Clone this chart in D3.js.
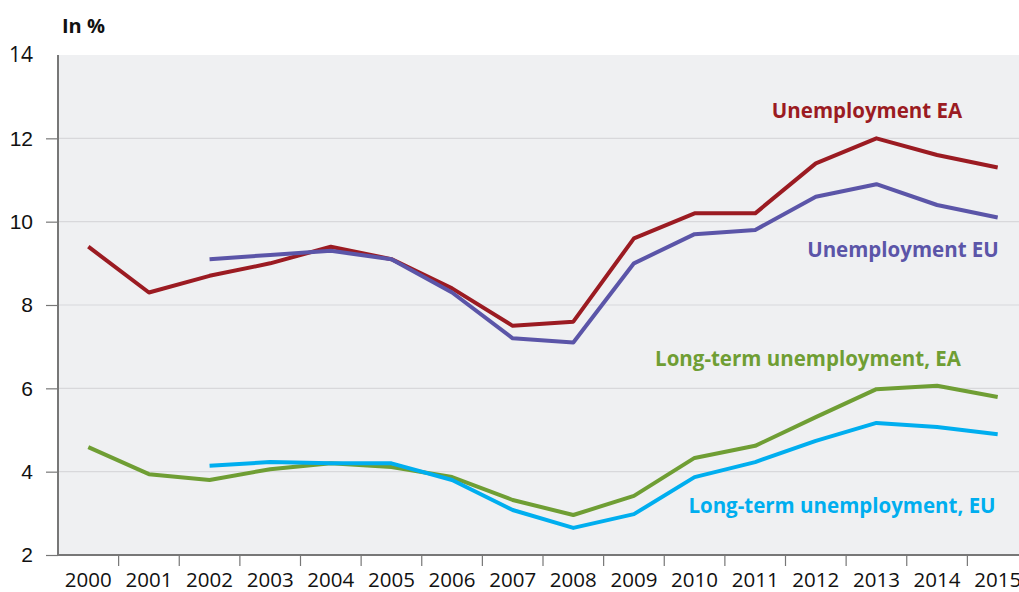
<!DOCTYPE html>
<html><head><meta charset="utf-8">
<script src="https://cdn.jsdelivr.net/npm/d3@7"></script>
<style>body{margin:0;background:#fff;}svg{display:block;font-family:"Open Sans","Noto Sans",sans-serif;}</style>
</head><body><svg id="c" width="1019" height="592"></svg>
<script>
const years = ["2000","2001","2002","2003","2004","2005","2006","2007","2008","2009","2010","2011","2012","2013","2014","2015"];
const unempEA = [9.4,8.3,8.7,9.0,9.4,9.1,8.4,7.5,7.6,9.6,10.2,10.2,11.4,12.0,11.6,11.3];
const unempEU = [null,null,9.1,9.2,9.3,9.1,8.3,7.2,7.1,9.0,9.7,9.8,10.6,10.9,10.4,10.1];
const ltEA = [4.59,3.94,3.8,4.06,4.2,4.11,3.87,3.32,2.96,3.42,4.33,4.62,5.31,5.98,6.06,5.79];
const ltEU = [null,null,4.14,4.23,4.2,4.2,3.8,3.08,2.65,2.98,3.87,4.23,4.74,5.17,5.07,4.9];
const yTicks = [2,4,6,8,10,12,14];
const seriesNames = ["Unemployment EA","Unemployment EU","Long-term unemployment, EA","Long-term unemployment, EU"];
const colors = ["#9b1b22","#5b55a8","#6f9e34","#00aeef"];

const svg = d3.select("#c");
const L = 58, T = 55, B = 555, R = 1028;
const x = d3.scaleBand().domain(years).range([L, R]).padding(0);
const y = d3.scaleLinear().domain([2,14]).range([B, T]);

svg.append("rect").attr("x", L).attr("y", T).attr("width", R - L).attr("height", B - T).attr("fill", "#eff0f2");

// gridlines
svg.append("g").selectAll("line").data(yTicks.filter(d => d > 2 && d < 14)).join("line")
  .attr("x1", L).attr("x2", R).attr("y1", d => y(d)).attr("y2", d => y(d))
  .attr("stroke", "#d8d8db").attr("stroke-width", 1.2);

// y axis
const ya = svg.append("g").attr("transform", `translate(${L},0)`)
  .call(d3.axisLeft(y).tickValues(yTicks.filter(d => d < 14)).tickSize(12).tickPadding(13).tickFormat(d3.format("d")));
ya.select(".domain").remove();
ya.selectAll("line").attr("stroke", "#777").attr("stroke-width", 1.2);
ya.selectAll("text").attr("font-size", 21).attr("fill", "#111");
svg.append("line").attr("x1", L).attr("x2", L).attr("y1", T).attr("y2", B).attr("stroke", "#777").attr("stroke-width", 2);
svg.append("text").attr("x", 33).attr("y", y(14)).attr("dy", "0.35em").attr("text-anchor", "end")
  .attr("font-size", 21).attr("fill", "#111").text("14");

// x axis
svg.append("line").attr("x1", L).attr("x2", R).attr("y1", B).attr("y2", B).attr("stroke", "#777").attr("stroke-width", 2);
svg.append("g").selectAll("line").data(years.slice(1)).join("line")
  .attr("x1", d => x(d)).attr("x2", d => x(d)).attr("y1", B).attr("y2", B + 11)
  .attr("stroke", "#777").attr("stroke-width", 1.2);
svg.append("g").selectAll("text").data(years).join("text")
  .attr("x", d => x(d) + x.bandwidth() / 2).attr("y", 587).attr("text-anchor", "middle")
  .attr("font-size", 20.5).attr("fill", "#111").text(d => d);

svg.append("text").attr("x", 62).attr("y", 33).attr("font-size", 20).attr("font-weight", "bold").attr("fill", "#111").text("In %");

const line = d3.line().defined(d => d[1] != null)
  .x(d => x(d[0]) + x.bandwidth() / 2).y(d => y(d[1]));
[unempEA, unempEU, ltEA, ltEU].forEach((s, i) => {
  svg.append("path").datum(years.map((yr, j) => [yr, s[j]]))
    .attr("d", line).attr("fill", "none").attr("stroke", colors[i]).attr("stroke-width", 4)
    .attr("stroke-linejoin", "round");
});

const labelPos = [[867,118],[903,257],[808,366],[842,513]];
seriesNames.forEach((n, i) => {
  svg.append("text").attr("x", labelPos[i][0]).attr("y", labelPos[i][1]).attr("text-anchor", "middle")
    .attr("font-size", 20.5).attr("font-weight", "bold").attr("fill", colors[i]).text(n);
});
</script></body></html>
